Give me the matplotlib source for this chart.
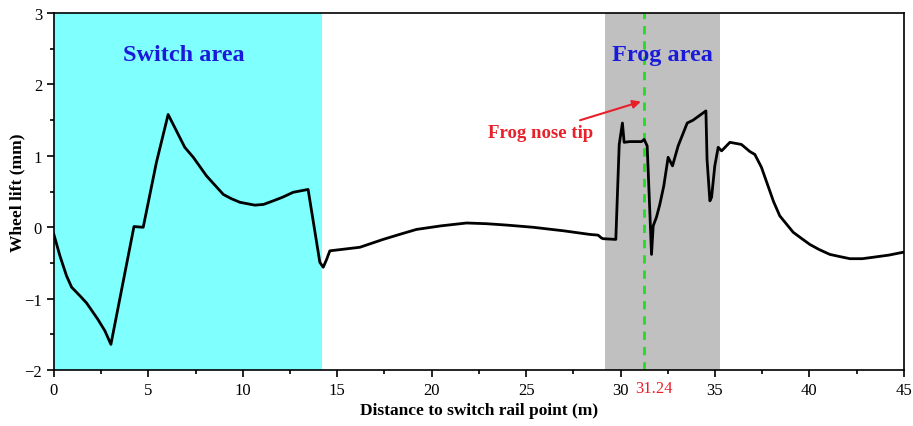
import matplotlib
matplotlib.use("Agg")
import matplotlib.pyplot as plt
from matplotlib.ticker import MultipleLocator

# Wheel lift along the turnout (distance in m, lift in mm)
distance = [0.0, 0.32, 0.67, 0.94, 1.38, 1.73, 2.33, 2.7, 3.02, 4.24, 4.73, 5.43, 6.05,
            6.93, 7.38, 8.08, 8.97, 9.4, 9.85, 10.64, 11.1, 11.61, 12.1, 12.67, 13.46,
            14.08, 14.26, 14.44, 14.61, 16.2, 17.43, 18.3, 19.2, 20.5, 21.85, 22.9,
            24.0, 25.37, 27.0, 28.37, 28.81, 28.99, 29.08, 29.75, 29.93, 30.1, 30.19,
            30.49, 31.11, 31.25, 31.41, 31.51, 31.64, 31.73, 31.9, 32.08, 32.29, 32.52,
            32.75, 33.05, 33.53, 33.84, 34.52, 34.58, 34.73, 34.82, 34.99, 35.17, 35.35,
            35.79, 36.4, 36.85, 37.11, 37.46, 37.9, 38.1, 38.43, 38.8, 39.14, 39.6,
            40.02, 40.5, 41.08, 41.6, 42.14, 42.8, 43.37, 44.2, 44.96]
wheel_lift = [-0.1, -0.4, -0.68, -0.84, -0.96, -1.06, -1.29, -1.45, -1.64, 0.01, 0.0,
              0.91, 1.58, 1.12, 0.98, 0.72, 0.46, 0.4, 0.35, 0.31, 0.32, 0.37, 0.42,
              0.49, 0.53, -0.49, -0.56, -0.45, -0.33, -0.28, -0.17, -0.1, -0.03, 0.02,
              0.06, 0.05, 0.03, 0.0, -0.05, -0.1, -0.11, -0.15, -0.16, -0.17, 1.16,
              1.46, 1.19, 1.2, 1.2, 1.23, 1.14, 0.49, -0.38, 0.02, 0.14, 0.32, 0.58,
              0.98, 0.86, 1.14, 1.46, 1.5, 1.63, 0.95, 0.37, 0.42, 0.86, 1.12, 1.07,
              1.19, 1.16, 1.06, 1.02, 0.84, 0.51, 0.36, 0.16, 0.04, -0.07, -0.16,
              -0.24, -0.31, -0.38, -0.41, -0.44, -0.44, -0.42, -0.39, -0.35]

switch_area = (0.0, 14.2)
frog_area = (29.2, 35.25)
frog_nose_tip = 31.24

x_ticks = [0, 5, 10, 15, 20, 25, 30, 35, 40, 45]
y_ticks = [-2, -1, 0, 1, 2, 3]

serif = ["Liberation Serif", "DejaVu Serif"]
plt.rcParams["font.family"] = serif

fig = plt.figure(figsize=(9.13, 4.27), dpi=100)
ax = fig.add_axes([0.059, 0.131, 0.931, 0.836])

ax.axvspan(*switch_area, color="#80ffff", lw=0, zorder=0)
ax.axvspan(*frog_area, color="#c0c0c0", lw=0, zorder=0)
ax.axvline(frog_nose_tip, color="#22dd22", ls=(0, (3, 2.5)), lw=2, zorder=2)

ax.plot(distance, wheel_lift, color="black", lw=2, zorder=3,
        solid_joinstyle="round")

ax.set_xlim(0, 45)
ax.set_ylim(-2, 3)
ax.set_xticks(x_ticks)
ax.set_yticks(y_ticks)
ax.xaxis.set_minor_locator(MultipleLocator(2.5))
ax.yaxis.set_minor_locator(MultipleLocator(0.5))
ax.tick_params(which="major", direction="out", length=5, width=1.2, labelsize=12)
ax.tick_params(which="minor", direction="out", length=3, width=1.2)
for s in ax.spines.values():
    s.set_linewidth(1.2)

# value of the frog nose tip written beside the axis, just right of its line
ax.annotate(f"{frog_nose_tip:.2f}", xy=(frog_nose_tip, -2), xycoords="data",
            xytext=(7, -7), textcoords="offset points", color="#e8202a",
            ha="center", va="top", fontsize=12)

ax.set_xlabel("Distance to switch rail point (m)", fontsize=12.5, fontweight="bold", labelpad=3)
ax.set_ylabel("Wheel lift (mm)", fontsize=12.5, fontweight="bold", labelpad=-1)

ax.text(6.9, 2.42, "Switch area", color="#1a1adb", fontsize=17.5, fontweight="bold",
        ha="center", va="center")
ax.text(32.2, 2.42, "Frog area", color="#1a1adb", fontsize=17.5, fontweight="bold",
        ha="center", va="center")
ax.annotate("Frog nose tip", xy=(31.08, 1.76), xytext=(28.55, 1.33),
            color="#e8202a", fontsize=13.5, fontweight="bold", ha="right", va="center",
            arrowprops=dict(arrowstyle="-|>", color="#e8202a", lw=1.5,
                            mutation_scale=12, shrinkA=2, shrinkB=0))

fig.savefig("out.png", dpi=100)
